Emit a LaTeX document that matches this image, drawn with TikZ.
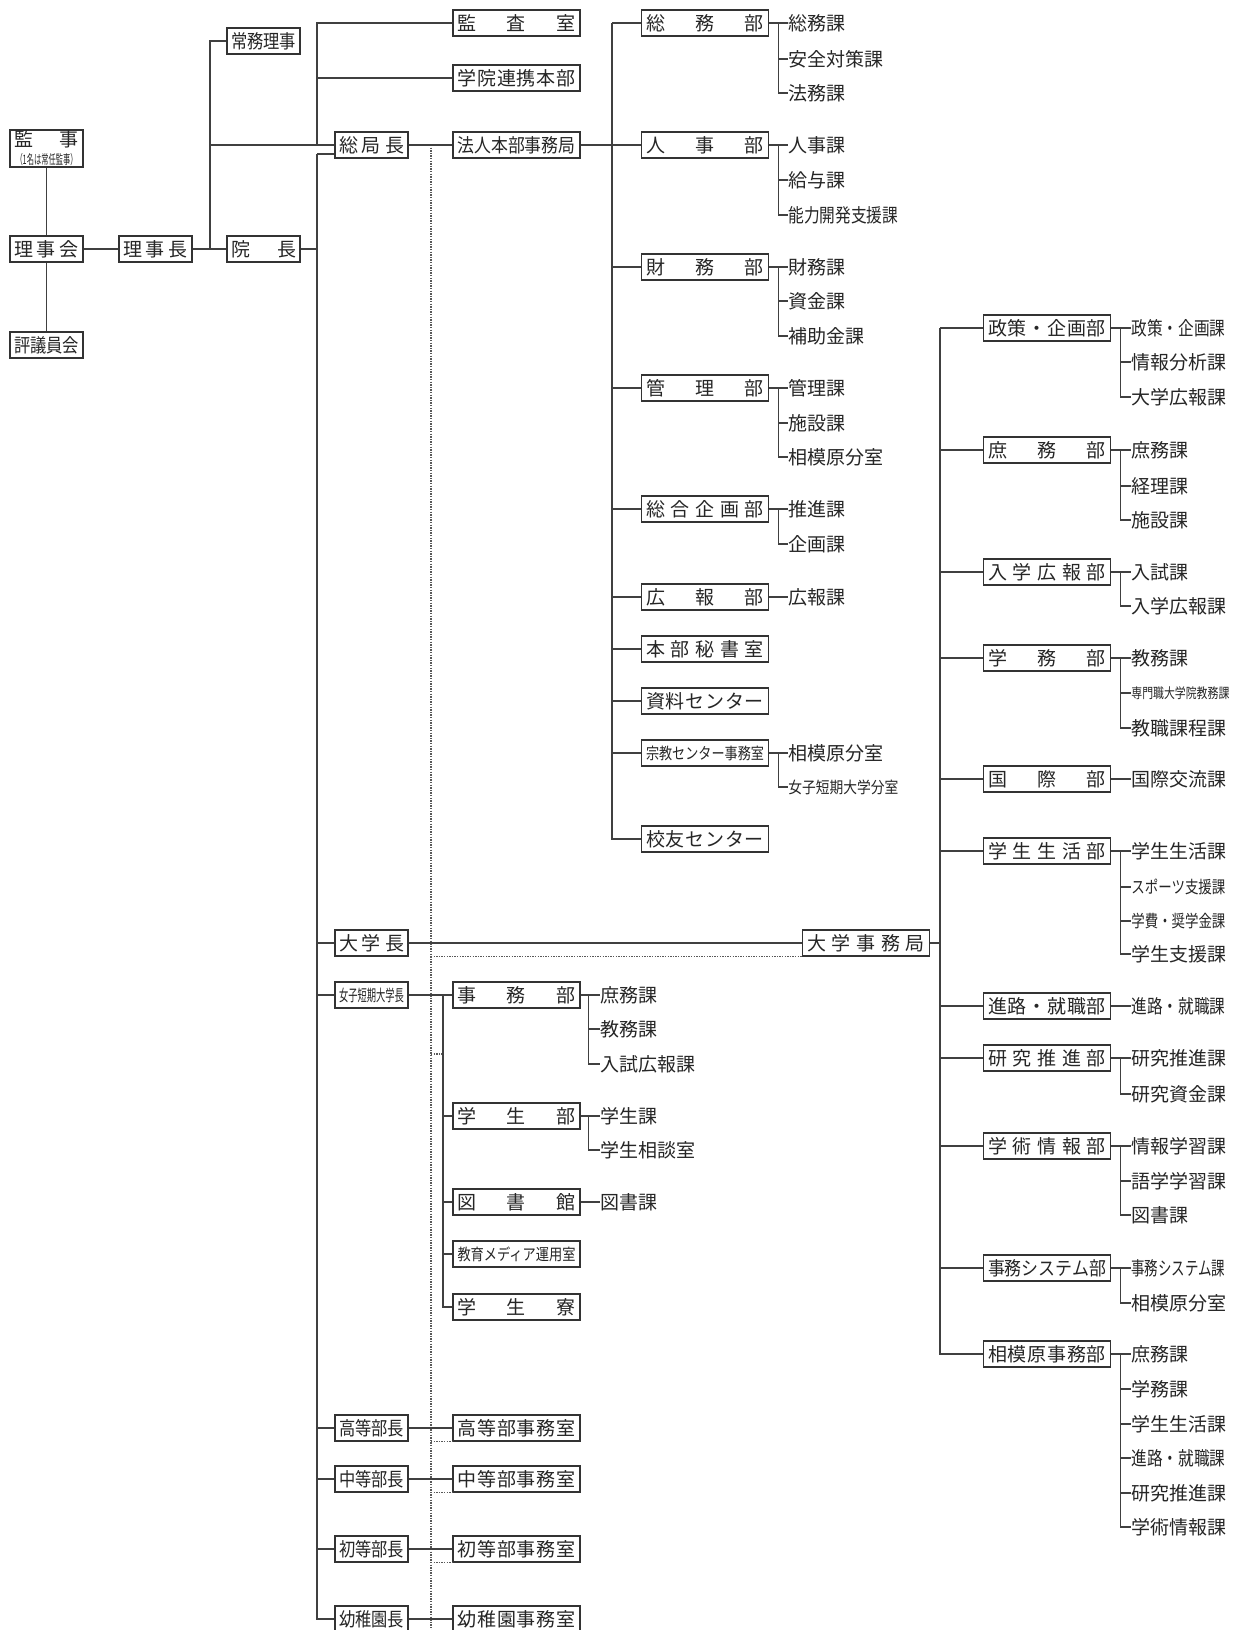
\documentclass[tikz,border=0pt]{standalone}
\usepackage{fontspec}
\setmainfont{Noto Sans CJK JP}
\usepackage{graphicx}
\usepackage{tikz}
\newcommand{\sbl}[1]{\makebox[32.5pt][s]{#1}}
\newcommand{\mbl}[1]{\makebox[59pt][s]{#1}}
\newcommand{\fitw}[2]{\resizebox{#1}{\height}{#2}}

\begin{document}
\begin{tikzpicture}[x=0.5pt, y=-0.5pt,
    link/.style={draw=black!75, line width=0.6pt},
    dotlink/.style={draw=black!65, line width=0.65pt, dash pattern=on 0.7pt off 0.6pt},
    box/.style={draw=black!80, line width=0.6pt, fill=white, inner sep=0pt,
      minimum height=13pt, font=\fontsize{9.5}{10}\selectfont, text=black!85},
    sbox/.style={box, minimum width=36.5pt},
    mbox/.style={box, minimum width=63.5pt},
    ka/.style={anchor=west, inner sep=0pt, font=\fontsize{9.5}{10}\selectfont, text=black!85}]
  \useasboundingbox (0,0) rectangle (1234,1630);
  \fill[white] (0,0) rectangle (1234,1630);

  % board
  \node[sbox, minimum height=18.5pt, align=center] (kanji) at (46.5,148.5)
    {\sbl{監\hfill 事}\\[-1pt]\fitw{31pt}{\fontsize{6.5}{7}\selectfont （1名は常任監事）}};
  \node[sbox] (rijikai) at (46.5,249) {\sbl{理\hfill 事\hfill 会}};
  \node[sbox] (hyogiin) at (46.5,345) {\fitw{32.5pt}{評議員会}};
  \node[sbox] (rijicho) at (155.5,249) {\sbl{理\hfill 事\hfill 長}};
  \node[sbox] (jomu) at (263.5,41) {\fitw{32.5pt}{常務理事}};
  \node[sbox] (incho) at (263.5,249) {\sbl{院\hfill 長}};
  \node[sbox] (sokyoku) at (371.5,145) {\sbl{総\hfill 局\hfill 長}};
  \node[mbox] (kansa) at (516.5,23) {\mbl{監\hfill 査\hfill 室}};
  \node[mbox] (renkei) at (516.5,78) {\mbl{学\hfill 院\hfill 連\hfill 携\hfill 本\hfill 部}};
  \node[mbox] (hojin) at (516.5,145) {\fitw{59pt}{法人本部事務局}};

  % heads of schools
  \node[sbox] (gakucho) at (371.5,943) {\sbl{大\hfill 学\hfill 長}};
  \node[sbox] (tandaicho) at (371.5,995) {\fitw{32.5pt}{\fontsize{8}{9}\selectfont 女子短期大学長}};
  \node[sbox] (kotocho) at (371.5,1428) {\fitw{32.5pt}{高等部長}};
  \node[sbox] (chutocho) at (371.5,1479) {\fitw{32.5pt}{中等部長}};
  \node[sbox] (shotocho) at (371.5,1549) {\fitw{32.5pt}{初等部長}};
  \node[sbox] (yochicho) at (371.5,1619) {\fitw{32.5pt}{幼稚園長}};
  \node[mbox] (kotoj) at (516.5,1428) {\mbl{高\hfill 等\hfill 部\hfill 事\hfill 務\hfill 室}};
  \node[mbox] (chutoj) at (516.5,1479) {\mbl{中\hfill 等\hfill 部\hfill 事\hfill 務\hfill 室}};
  \node[mbox] (shotoj) at (516.5,1549) {\mbl{初\hfill 等\hfill 部\hfill 事\hfill 務\hfill 室}};
  \node[mbox] (yochij) at (516.5,1619) {\mbl{幼\hfill 稚\hfill 園\hfill 事\hfill 務\hfill 室}};

  % women's junior college
  \node[mbox] (tjimu) at (516.5,995) {\mbl{事\hfill 務\hfill 部}};
  \node[mbox] (tgakusei) at (516.5,1116) {\mbl{学\hfill 生\hfill 部}};
  \node[mbox] (ttosho) at (516.5,1202) {\mbl{図\hfill 書\hfill 館}};
  \node[mbox] (tmedia) at (516.5,1254) {\fitw{59pt}{\fontsize{8}{9}\selectfont 教育メディア運用室}};
  \node[mbox] (tryo) at (516.5,1307) {\mbl{学\hfill 生\hfill 寮}};
  \node[ka] (tjimu1) at (600,995) {庶務課};
  \node[ka] (tjimu2) at (600,1029) {教務課};
  \node[ka] (tjimu3) at (600,1064) {入試広報課};
  \node[ka] (tgakusei1) at (600,1116) {学生課};
  \node[ka] (tgakusei2) at (600,1150) {学生相談室};
  \node[ka] (ttosho1) at (600,1202) {図書課};

  % head office
  \node[mbox] (somu) at (705,23) {\mbl{総\hfill 務\hfill 部}};
  \node[mbox] (jinji) at (705,145) {\mbl{人\hfill 事\hfill 部}};
  \node[mbox] (zaimu) at (705,267) {\mbl{財\hfill 務\hfill 部}};
  \node[mbox] (kanri) at (705,388) {\mbl{管\hfill 理\hfill 部}};
  \node[mbox] (sogo) at (705,509) {\mbl{総\hfill 合\hfill 企\hfill 画\hfill 部}};
  \node[mbox] (koho) at (705,597) {\mbl{広\hfill 報\hfill 部}};
  \node[mbox] (hisho) at (705,649) {\mbl{本\hfill 部\hfill 秘\hfill 書\hfill 室}};
  \node[mbox] (shiryo) at (705,701) {\mbl{資\hfill 料\hfill セ\hfill ン\hfill タ\hfill ー}};
  \node[mbox] (shukyo) at (705,753) {\fitw{59pt}{\fontsize{8}{9}\selectfont 宗教センター事務室}};
  \node[mbox] (koyu) at (705,839) {\mbl{校\hfill 友\hfill セ\hfill ン\hfill タ\hfill ー}};
  \node[ka] (somu1) at (788,23) {総務課};
  \node[ka] (somu2) at (788,59) {安全対策課};
  \node[ka] (somu3) at (788,93) {法務課};
  \node[ka] (jinji1) at (788,145) {人事課};
  \node[ka] (jinji2) at (788,180) {給与課};
  \node[ka] (jinji3) at (788,215) {\fitw{55pt}{能力開発支援課}};
  \node[ka] (zaimu1) at (788,267) {財務課};
  \node[ka] (zaimu2) at (788,301) {資金課};
  \node[ka] (zaimu3) at (788,336) {補助金課};
  \node[ka] (kanri1) at (788,388) {管理課};
  \node[ka] (kanri2) at (788,423) {施設課};
  \node[ka] (kanri3) at (788,457) {相模原分室};
  \node[ka] (sogo1) at (788,509) {推進課};
  \node[ka] (sogo2) at (788,544) {企画課};
  \node[ka] (koho1) at (788,597) {広報課};
  \node[ka] (shukyo1) at (788,753) {相模原分室};
  \node[ka] (shukyo2) at (788,787) {\fitw{55pt}{\fontsize{8}{9}\selectfont 女子短期大学分室}};

  % university office
  \node[mbox] (daijimu) at (866,943) {\mbl{大\hfill 学\hfill 事\hfill 務\hfill 局}};
  \node[mbox] (seisaku) at (1047,328) {\mbl{政\hfill 策\hfill ・\hfill 企\hfill 画\hfill 部}};
  \node[mbox] (shomu) at (1047,450) {\mbl{庶\hfill 務\hfill 部}};
  \node[mbox] (nyugaku) at (1047,572) {\mbl{入\hfill 学\hfill 広\hfill 報\hfill 部}};
  \node[mbox] (gakumu) at (1047,658) {\mbl{学\hfill 務\hfill 部}};
  \node[mbox] (kokusai) at (1047,779) {\mbl{国\hfill 際\hfill 部}};
  \node[mbox] (seikatsu) at (1047,851) {\mbl{学\hfill 生\hfill 生\hfill 活\hfill 部}};
  \node[mbox] (shinro) at (1047,1006) {\mbl{進\hfill 路\hfill ・\hfill 就\hfill 職\hfill 部}};
  \node[mbox] (kenkyu) at (1047,1058) {\mbl{研\hfill 究\hfill 推\hfill 進\hfill 部}};
  \node[mbox] (gakujutsu) at (1047,1146) {\mbl{学\hfill 術\hfill 情\hfill 報\hfill 部}};
  \node[mbox] (system) at (1047,1268) {\fitw{59pt}{事務システム部}};
  \node[mbox] (sagami) at (1047,1354) {\mbl{相\hfill 模\hfill 原\hfill 事\hfill 務\hfill 部}};
  \node[ka] (seisaku1) at (1131,328) {\fitw{47pt}{政策・企画課}};
  \node[ka] (seisaku2) at (1131,362) {情報分析課};
  \node[ka] (seisaku3) at (1131,397) {大学広報課};
  \node[ka] (shomu1) at (1131,450) {庶務課};
  \node[ka] (shomu2) at (1131,486) {経理課};
  \node[ka] (shomu3) at (1131,520) {施設課};
  \node[ka] (nyugaku1) at (1131,572) {入試課};
  \node[ka] (nyugaku2) at (1131,606) {入学広報課};
  \node[ka] (gakumu1) at (1131,658) {教務課};
  \node[ka] (gakumu2) at (1131,693) {\fitw{49pt}{\fontsize{7}{8}\selectfont 専門職大学院教務課}};
  \node[ka] (gakumu3) at (1131,728) {教職課程課};
  \node[ka] (kokusai1) at (1131,779) {国際交流課};
  \node[ka] (seikatsu1) at (1131,851) {学生生活課};
  \node[ka] (seikatsu2) at (1131,887) {\fitw{47pt}{\fontsize{8.5}{9}\selectfont スポーツ支援課}};
  \node[ka] (seikatsu3) at (1131,921) {\fitw{47pt}{\fontsize{8.5}{9}\selectfont 学費・奨学金課}};
  \node[ka] (seikatsu4) at (1131,954) {学生支援課};
  \node[ka] (shinro1) at (1131,1006) {\fitw{47pt}{進路・就職課}};
  \node[ka] (kenkyu1) at (1131,1058) {研究推進課};
  \node[ka] (kenkyu2) at (1131,1094) {研究資金課};
  \node[ka] (gakujutsu1) at (1131,1146) {情報学習課};
  \node[ka] (gakujutsu2) at (1131,1181) {語学学習課};
  \node[ka] (gakujutsu3) at (1131,1215) {図書課};
  \node[ka] (system1) at (1131,1268) {\fitw{47pt}{事務システム課}};
  \node[ka] (system2) at (1131,1303) {相模原分室};
  \node[ka] (sagami1) at (1131,1354) {庶務課};
  \node[ka] (sagami2) at (1131,1389) {学務課};
  \node[ka] (sagami3) at (1131,1424) {学生生活課};
  \node[ka] (sagami4) at (1131,1458) {\fitw{47pt}{進路・就職課}};
  \node[ka] (sagami5) at (1131,1493) {研究推進課};
  \node[ka] (sagami6) at (1131,1527) {学術情報課};

  % trunk points
  \coordinate (lj) at (210,249);
  \coordinate (ut) at (317,145);
  \coordinate (lt) at (317,154);
  \coordinate (dt) at (431,145);
  \coordinate (ds) at (431,1054);
  \coordinate (tt) at (443,995);
  \coordinate (mt) at (612,23);
  \coordinate (rt) at (940,328);

  % dotted lines
  \draw[dotlink] (dt) -- (dt |- yochij.south);
  \draw[dotlink] (dt |- daijimu.south) -- (daijimu.south west);
  \draw[dotlink] (ds) -- (ds -| tt);
  \draw[dotlink] (dt |- kotoj.south) -- (kotoj.south west);
  \draw[dotlink] (dt |- chutoj.south) -- (chutoj.south west);
  \draw[dotlink] (dt |- shotoj.south) -- (shotoj.south west);

  % board lines
  \draw[link] (kanji) -- (rijikai);
  \draw[link] (rijikai) -- (hyogiin);
  \draw[link] (rijikai) -- (rijicho);
  \draw[link] (rijicho) -- (incho);
  \draw[link] (lj) |- (jomu.west);
  \draw[link] (lj |- sokyoku.west) -- (sokyoku.west);
  \draw[link] (ut) |- (kansa.west);
  \draw[link] (ut |- renkei.west) -- (renkei.west);
  \draw[link] (sokyoku) -- (hojin);

  % trunk under the president
  \draw[link] (lt) -- (lt -| sokyoku.west);
  \draw[link] (lt) |- (yochicho.west);
  \draw[link] (incho.east) -- (lt |- incho.east);
  \draw[link] (lt |- gakucho.west) -- (gakucho.west);
  \draw[link] (lt |- tandaicho.west) -- (tandaicho.west);
  \draw[link] (lt |- kotocho.west) -- (kotocho.west);
  \draw[link] (lt |- chutocho.west) -- (chutocho.west);
  \draw[link] (lt |- shotocho.west) -- (shotocho.west);
  \draw[link] (gakucho) -- (daijimu);
  \draw[link] (kotocho) -- (kotoj);
  \draw[link] (chutocho) -- (chutoj);
  \draw[link] (shotocho) -- (shotoj);
  \draw[link] (yochicho) -- (yochij);

  % junior college lines
  \draw[link] (tandaicho) -- (tjimu);
  \draw[link] (tt) |- (tryo.west);
  \draw[link] (tt |- tgakusei.west) -- (tgakusei.west);
  \draw[link] (tt |- ttosho.west) -- (ttosho.west);
  \draw[link] (tt |- tmedia.west) -- (tmedia.west);
  \draw[link] (tjimu.east) -- (tjimu1.west);
  \draw[link] ([xshift=4pt]tjimu.east) |- (tjimu2.west);
  \draw[link] ([xshift=4pt]tjimu.east) |- (tjimu3.west);
  \draw[link] (tgakusei.east) -- (tgakusei1.west);
  \draw[link] ([xshift=4pt]tgakusei.east) |- (tgakusei2.west);
  \draw[link] (ttosho.east) -- (ttosho1.west);

  % head office lines
  \draw[link] (hojin.east) -- (mt |- hojin.east);
  \draw[link] (mt) -- (somu.west);
  \draw[link] (mt) |- (koyu.west);
  \draw[link] (mt |- jinji.west) -- (jinji.west);
  \draw[link] (mt |- zaimu.west) -- (zaimu.west);
  \draw[link] (mt |- kanri.west) -- (kanri.west);
  \draw[link] (mt |- sogo.west) -- (sogo.west);
  \draw[link] (mt |- koho.west) -- (koho.west);
  \draw[link] (mt |- hisho.west) -- (hisho.west);
  \draw[link] (mt |- shiryo.west) -- (shiryo.west);
  \draw[link] (mt |- shukyo.west) -- (shukyo.west);
  \draw[link] (somu.east) -- (somu1.west);
  \draw[link] ([xshift=4.5pt]somu.east) |- (somu2.west);
  \draw[link] ([xshift=4.5pt]somu.east) |- (somu3.west);
  \draw[link] (jinji.east) -- (jinji1.west);
  \draw[link] ([xshift=4.5pt]jinji.east) |- (jinji2.west);
  \draw[link] ([xshift=4.5pt]jinji.east) |- (jinji3.west);
  \draw[link] (zaimu.east) -- (zaimu1.west);
  \draw[link] ([xshift=4.5pt]zaimu.east) |- (zaimu2.west);
  \draw[link] ([xshift=4.5pt]zaimu.east) |- (zaimu3.west);
  \draw[link] (kanri.east) -- (kanri1.west);
  \draw[link] ([xshift=4.5pt]kanri.east) |- (kanri2.west);
  \draw[link] ([xshift=4.5pt]kanri.east) |- (kanri3.west);
  \draw[link] (sogo.east) -- (sogo1.west);
  \draw[link] ([xshift=4.5pt]sogo.east) |- (sogo2.west);
  \draw[link] (koho.east) -- (koho1.west);
  \draw[link] (shukyo.east) -- (shukyo1.west);
  \draw[link] ([xshift=4.5pt]shukyo.east) |- (shukyo2.west);

  % university office lines
  \draw[link] (daijimu.east) -- (rt |- daijimu.east);
  \draw[link] (rt) -- (seisaku.west);
  \draw[link] (rt) |- (sagami.west);
  \draw[link] (rt |- shomu.west) -- (shomu.west);
  \draw[link] (rt |- nyugaku.west) -- (nyugaku.west);
  \draw[link] (rt |- gakumu.west) -- (gakumu.west);
  \draw[link] (rt |- kokusai.west) -- (kokusai.west);
  \draw[link] (rt |- seikatsu.west) -- (seikatsu.west);
  \draw[link] (rt |- shinro.west) -- (shinro.west);
  \draw[link] (rt |- kenkyu.west) -- (kenkyu.west);
  \draw[link] (rt |- gakujutsu.west) -- (gakujutsu.west);
  \draw[link] (rt |- system.west) -- (system.west);
  \draw[link] (seisaku.east) -- (seisaku1.west);
  \draw[link] ([xshift=4.5pt]seisaku.east) |- (seisaku2.west);
  \draw[link] ([xshift=4.5pt]seisaku.east) |- (seisaku3.west);
  \draw[link] (shomu.east) -- (shomu1.west);
  \draw[link] ([xshift=4.5pt]shomu.east) |- (shomu2.west);
  \draw[link] ([xshift=4.5pt]shomu.east) |- (shomu3.west);
  \draw[link] (nyugaku.east) -- (nyugaku1.west);
  \draw[link] ([xshift=4.5pt]nyugaku.east) |- (nyugaku2.west);
  \draw[link] (gakumu.east) -- (gakumu1.west);
  \draw[link] ([xshift=4.5pt]gakumu.east) |- (gakumu2.west);
  \draw[link] ([xshift=4.5pt]gakumu.east) |- (gakumu3.west);
  \draw[link] (kokusai.east) -- (kokusai1.west);
  \draw[link] (seikatsu.east) -- (seikatsu1.west);
  \draw[link] ([xshift=4.5pt]seikatsu.east) |- (seikatsu2.west);
  \draw[link] ([xshift=4.5pt]seikatsu.east) |- (seikatsu3.west);
  \draw[link] ([xshift=4.5pt]seikatsu.east) |- (seikatsu4.west);
  \draw[link] (shinro.east) -- (shinro1.west);
  \draw[link] (kenkyu.east) -- (kenkyu1.west);
  \draw[link] ([xshift=4.5pt]kenkyu.east) |- (kenkyu2.west);
  \draw[link] (gakujutsu.east) -- (gakujutsu1.west);
  \draw[link] ([xshift=4.5pt]gakujutsu.east) |- (gakujutsu2.west);
  \draw[link] ([xshift=4.5pt]gakujutsu.east) |- (gakujutsu3.west);
  \draw[link] (system.east) -- (system1.west);
  \draw[link] ([xshift=4.5pt]system.east) |- (system2.west);
  \draw[link] (sagami.east) -- (sagami1.west);
  \draw[link] ([xshift=4.5pt]sagami.east) |- (sagami2.west);
  \draw[link] ([xshift=4.5pt]sagami.east) |- (sagami3.west);
  \draw[link] ([xshift=4.5pt]sagami.east) |- (sagami4.west);
  \draw[link] ([xshift=4.5pt]sagami.east) |- (sagami5.west);
  \draw[link] ([xshift=4.5pt]sagami.east) |- (sagami6.west);
\end{tikzpicture}
\end{document}
